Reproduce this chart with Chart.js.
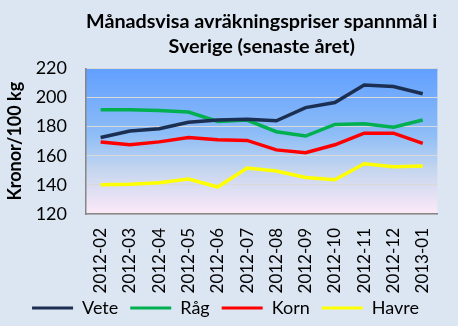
<!DOCTYPE html>
<html>
<head>
<meta charset="utf-8">
<script src="https://cdn.jsdelivr.net/npm/chart.js@4/dist/chart.umd.min.js"></script>
<style>
html,body{margin:0;padding:0;background:#DCE6F2;}
#wrap{width:458px;height:326px;}
</style>
</head>
<body>
<div id="wrap"><canvas id="c" width="458" height="326"></canvas></div>
<script>
const months = ["2012-02","2012-03","2012-04","2012-05","2012-06","2012-07","2012-08","2012-09","2012-10","2012-11","2012-12","2013-01"];
const vete  = [172.5, 177, 178.5, 183, 184.5, 185, 184, 193, 196.5, 208.5, 207.5, 202.5];
const rag   = [191.5, 191.5, 191, 190, 183.5, 184.5, 176.5, 173.5, 181.5, 182, 179.5, 184.5];
const korn  = [169.5, 167.5, 169.5, 172.5, 171, 170.5, 164, 162, 167.5, 175.5, 175.5, 168.5];
const havre = [140, 140.5, 141.5, 144, 138.5, 151.5, 149.5, 145, 143.5, 154.5, 152.5, 153];
const seriesNames = ["Vete","Råg","Korn","Havre"];
const seriesColors = ["#1B2F52","#00B050","#FF0000","#FFFF00"];
const yTicks = {min:120, max:220, step:20};

const FONT = "Lato, 'Open Sans', sans-serif";

const bgPlugin = {
  id:'bg',
  beforeDraw(chart){
    const {ctx, chartArea:a} = chart;
    ctx.save();
    ctx.fillStyle = '#DCE6F2';
    ctx.fillRect(0,0,chart.width,chart.height);
    const g = ctx.createLinearGradient(0,a.top,0,a.bottom);
    g.addColorStop(0,'#619FFF');
    g.addColorStop(0.45,'#8DBDF7');
    g.addColorStop(0.7,'#C5D6EE');
    g.addColorStop(1,'#FDE9F8');
    ctx.fillStyle = g;
    ctx.fillRect(a.left,a.top,a.right-a.left,a.bottom-a.top);
    ctx.restore();
  }
};

// nudge the legend block so it sits over the lower part of the rotated labels, as in the original
const legendNudge = {
  id:'legendNudge',
  afterLayout(chart){
    const l = chart.legend;
    if (!l) return;
    l.top -= 9; l.bottom -= 9;
    l.left += 3; l.right += 3;
  }
};

const sets = [vete, rag, korn, havre].map((d,i)=>({
  label: seriesNames[i],
  data: d,
  borderColor: seriesColors[i],
  backgroundColor: seriesColors[i],
  borderWidth: 3.5,
  pointRadius: 0,
  tension: 0,
  fill: false
}));

new Chart(document.getElementById('c'), {
  type:'line',
  data:{labels: months, datasets: sets},
  plugins:[bgPlugin, legendNudge],
  options:{
    responsive:false,
    animation:false,
    devicePixelRatio:1,
    layout:{padding:{left:4, right:17, top:2, bottom:-10}},
    plugins:{
      title:{
        display:true,
        fullSize:false,
        text:["Månadsvisa avräkningspriser spannmål i","Sverige (senaste året)"],
        color:'#000',
        font:{family:FONT, size:19.8, weight:'bold', lineHeight:1.22},
        padding:{top:8, bottom:10}
      },
      legend:{
        position:'bottom',
        labels:{
          color:'#000',
          font:{family:FONT, size:18},
          boxWidth:41,
          boxHeight:3,
          padding:12,
          generateLabels(chart){
            return chart.data.datasets.map((ds,i)=>({
              text: ds.label, fillStyle: ds.borderColor, strokeStyle: ds.borderColor,
              lineWidth:0, datasetIndex:i, hidden:false, fontColor:'#000'
            }));
          }
        }
      },
      tooltip:{enabled:false}
    },
    scales:{
      x:{
        offset:true,
        grid:{display:true, drawOnChartArea:false, drawTicks:false},
        border:{display:true, color:'#868686', width:1.5},
        ticks:{color:'#000', font:{family:FONT, size:17}, minRotation:90, maxRotation:90, autoSkip:false, padding:14},
        afterFit(s){ s.height = 82; }
      },
      y:{
        min:yTicks.min, max:yTicks.max,
        grid:{color:'#D9D9D9', lineWidth:1, drawTicks:false},
        border:{display:true, color:'#868686', width:1.5},
        ticks:{stepSize:yTicks.step, color:'#000', font:{family:FONT, size:18}, padding:19},
        title:{display:true, text:'Kronor/100 kg', color:'#000', font:{family:FONT, size:18, weight:'bold'}, padding:{top:0,bottom:0}},
        afterFit(s){ s.width = 82; }
      }
    }
  }
});
</script>
</body>
</html>
